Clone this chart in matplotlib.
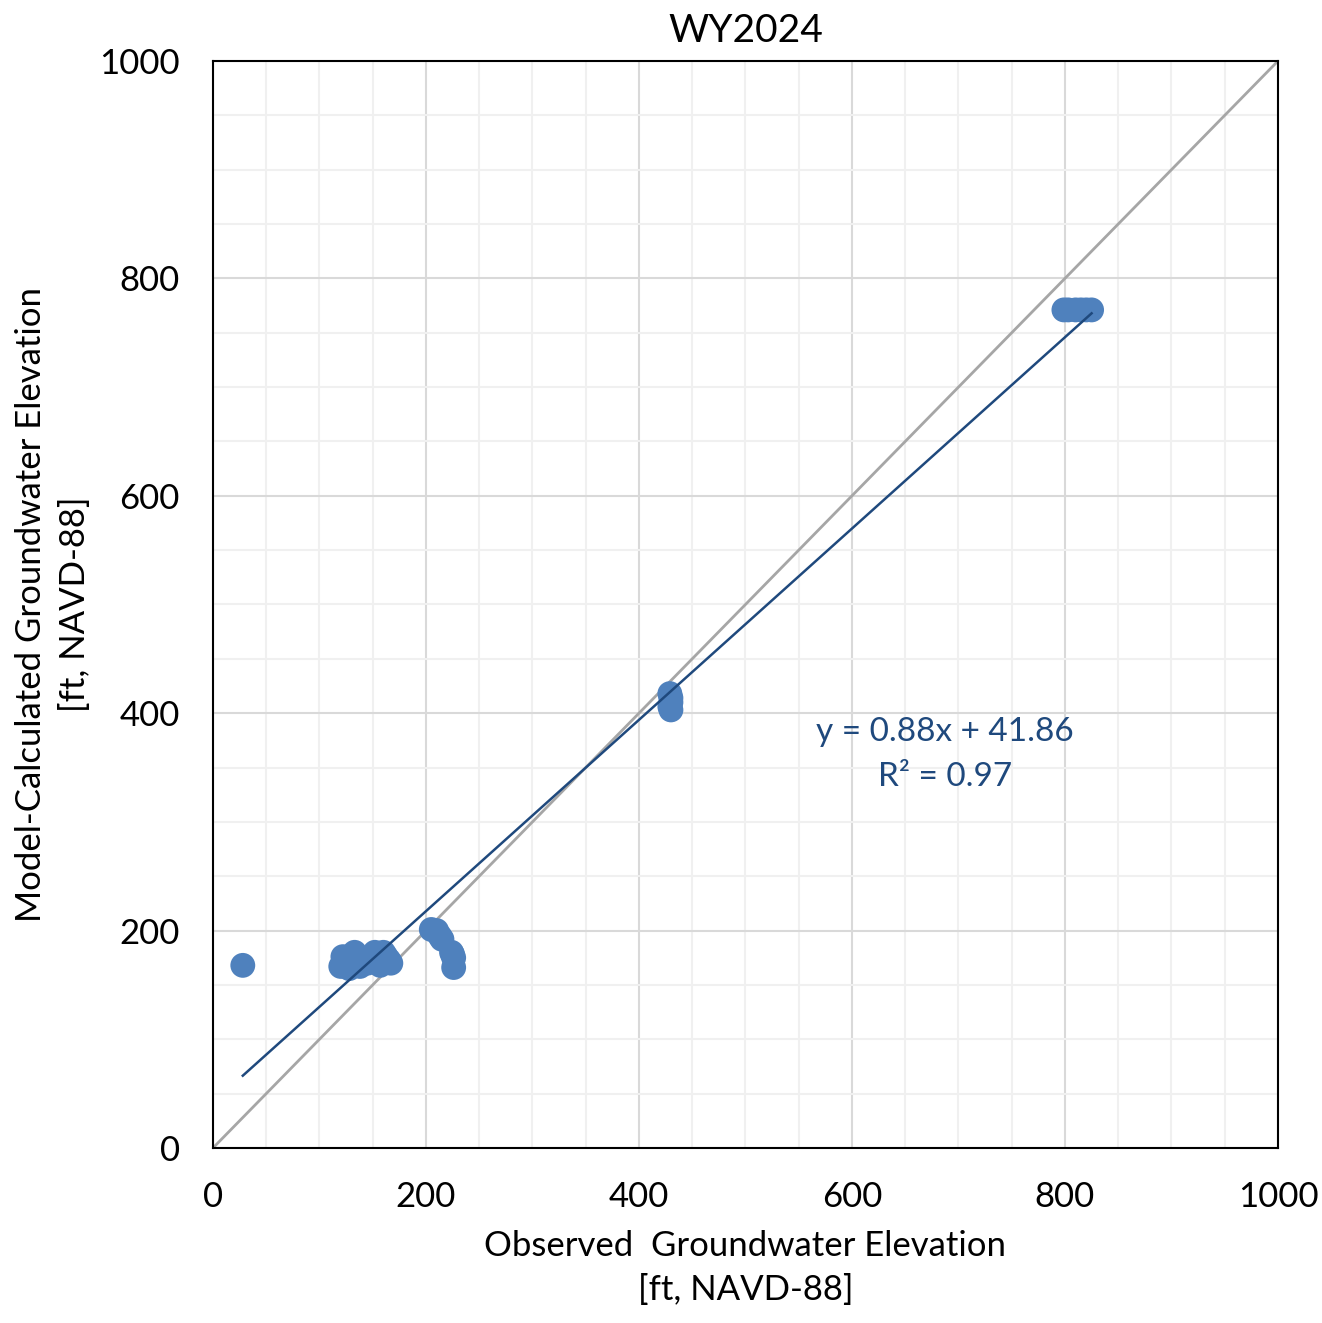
import numpy as np
import matplotlib.pyplot as plt
from matplotlib.ticker import MultipleLocator

plt.rcParams['font.family'] = ['Lato', 'DejaVu Sans']

# observed vs model-calculated groundwater elevations (ft, NAVD-88)
observed = [28,
            120, 122, 125, 128, 130, 133, 135, 138, 142, 145, 148, 150, 152,
            155, 157, 158, 160, 162, 165, 167,
            205, 210, 213, 215, 224, 225, 226, 226,
            429, 430, 430, 429, 430,
            799, 803, 810, 815, 820, 825]
modeled = [168,
           167, 176, 170, 165, 172, 180, 170, 167, 174, 170, 172, 175, 180,
           176, 168, 172, 180, 177, 173, 170,
           201, 200, 195, 192, 180, 178, 175, 166,
           418, 414, 410, 406, 403,
           771, 771, 771, 771, 771, 771]

slope = 0.88
intercept = 41.86
r2 = 0.97

fig = plt.figure(figsize=(13.22, 13.23), dpi=100)
ax = fig.add_axes([0.1611, 0.1323, 0.8056, 0.8216])

ax.set_xlim(0, 1000)
ax.set_ylim(0, 1000)
ax.xaxis.set_major_locator(MultipleLocator(200))
ax.yaxis.set_major_locator(MultipleLocator(200))
ax.xaxis.set_minor_locator(MultipleLocator(50))
ax.yaxis.set_minor_locator(MultipleLocator(50))
ax.grid(which='major', color='#d9d9d9', lw=1.5)
ax.grid(which='minor', color='#f0f0f0', lw=1.5)
ax.set_axisbelow(True)
ax.tick_params(which='both', length=0, labelsize=25)
ax.tick_params(axis='x', pad=24)
ax.tick_params(axis='y', pad=24)

# 1:1 line
ax.plot([0, 1000], [0, 1000], color='#a6a6a6', lw=2, zorder=2)

ax.scatter(observed, modeled, s=320, color='#4f81bd', edgecolors='none', zorder=3)

# linear trend line
xs = np.array([min(observed), max(observed)])
ax.plot(xs, slope * xs + intercept, color='#1f497d', lw=1.8, zorder=4)

ax.text(687, 383, f"y = {slope:.2f}x + {intercept:.2f}", color='#1f497d',
        fontsize=24, ha='center', va='center')
ax.text(687, 341, f"R² = {r2:.2f}", color='#1f497d',
        fontsize=24, ha='center', va='center')

for sp in ax.spines.values():
    sp.set_color('black')
    sp.set_linewidth(1.5)

ax.set_title('WY2024', fontsize=28, pad=14)
ax.set_xlabel('Observed  Groundwater Elevation\n[ft, NAVD-88]', fontsize=25,
              labelpad=12, linespacing=1.45)
ax.set_ylabel('Model-Calculated Groundwater Elevation\n[ft, NAVD-88]', fontsize=25,
              labelpad=6, linespacing=1.45)

fig.savefig('out.png', dpi=100)
